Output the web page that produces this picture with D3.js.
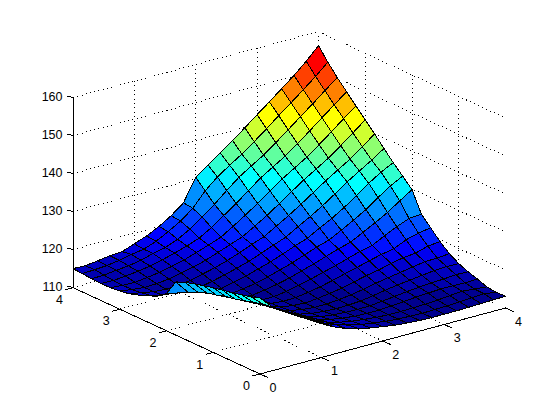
<!DOCTYPE html>
<html><head><meta charset="utf-8">
<script src="https://cdn.jsdelivr.net/npm/d3@7"></script>
<style>html,body{margin:0;padding:0;background:#fff}svg{display:block}text{font-family:"Liberation Sans",Arial,sans-serif;font-size:12.5px;fill:#000}</style>
</head><body><svg id="c" width="560" height="420"></svg>
<script>
const xValues=[0,.2,.4,.6,.8,1,1.2,1.4,1.6,1.8,2,2.2,2.4,2.6,2.8,3,3.2,3.4,3.6,3.8,4];
const yValues=[4,3.8,3.6,3.4,3.2,3,2.8,2.6,2.4,2.2,2,1.8,1.6,1.4,1.2,1,.8,.6,.4,.2,0];
const zValues=[
[115,114.9,115.3,115.8,116,117.2,118.4,120,122,124.5,130.4,132.7,135,137.4,139.9,142.5,145,147.6,150.2,153.1,156.3],
[114.8,115,115.2,115.7,116.4,116.9,118.1,119.8,121.7,124.2,127.9,130.7,132.9,135,137.4,139.9,142.5,145,147.6,150.2,153.1],
[114.6,114.7,115.1,115.4,116,116.9,117.6,118.9,120.7,123,125.5,128.3,130.9,133,135,137.4,139.9,142.5,145,147.6,150.2],
[114.5,114.4,114.7,115.1,115.6,116.4,117.3,118.3,119.5,121.4,123.7,126,128.5,131,133,135,137.4,139.9,142.5,145,147.6],
[114.5,114.3,114.2,114.6,115.1,115.8,116.6,117.7,118.8,120,122,124.1,126.3,128.7,131,133,135,137.4,139.9,142.5,145],
[114.8,114.3,114,114.1,114.5,115.2,115.9,116.8,118,119.2,120.4,122.3,124.3,126.5,128.8,131,133,135,137.4,139.9,142.5],
[115.2,114.6,114,113.8,113.9,114.4,115.2,116,117,118.2,119.5,120.7,122.6,124.5,126.6,128.8,131,133,135,137.4,139.9],
[116,115,114.3,114,113.5,113.7,114.4,115.2,116.1,117.1,118.3,119.6,120.8,122.7,124.5,126.5,128.7,131,133,135,137.2],
[116.9,116.3,115.9,115.3,114.4,113.4,113.7,114.4,115.2,116.2,117.2,118.4,119.7,120.8,122.6,124.3,126.3,128.5,130.9,133,134.6],
[118,117.7,117.3,116.5,115.3,114.1,113.4,113.8,114.4,115.2,116.2,117.2,118.4,119.6,120.6,122.3,124.1,126,128.3,130.5,132.2],
[119.8,119.1,118.5,117.6,116.2,114.6,113.5,113.3,113.8,114.4,115.2,116.2,117.2,118.3,119.4,120.3,122,123.7,125.5,127.7,129.8],
[124,120.4,119.7,118.3,116.6,115.2,113.9,113.2,113.2,113.7,114.4,115.2,116.1,117,118,119,119.7,121.4,122.9,124.2,124.5],
[125,121.6,120.5,119.1,117.5,115.8,114.3,113.4,113.1,113.2,113.7,114.3,115.1,116,116.8,117.7,118.5,119.1,120.6,121.5,122],
[125.8,122.5,121.1,119.4,117.8,116.3,114.6,113.6,113.1,112.9,113.2,113.7,114.2,115,115.8,116.4,117.2,117.9,118.2,119.2,119.5],
[126.4,123.1,121.6,120,118.4,116.9,114.9,113.8,113.2,112.9,112.9,113.2,113.6,114.2,114.9,115.5,116,116.6,117.1,117.2,117.5],
[127,123.9,122.3,120.9,119.3,117.4,115.4,114,113.3,113,112.8,112.9,113.1,113.6,114.2,114.7,115.1,115.5,115.9,116.1,116],
[127.5,124.3,122.8,121.3,119.7,117.8,115.9,114.4,113.6,113.2,113,112.9,113,113.3,113.7,114.1,114.4,114.7,114.8,115.1,115],
[128,125,123.4,121.8,120.1,118.2,116.4,114.9,114,113.5,113.1,113,113,113.2,113.5,113.8,114,114.2,114.2,114.1,114.2],
[128.6,125.7,123.9,122.1,120.3,118.4,116.7,115.3,114.4,113.8,113.4,113.1,112.9,112.9,113,113.1,113.3,113.6,113.9,113.6,113.3],
[129.2,126.4,124.4,122.5,120.6,118.7,117,115.7,114.8,114.1,113.6,113.2,112.9,112.8,112.7,112.8,112.9,113.1,113.3,113.5,113],
[130,126.8,124.6,122.7,120.8,118.9,117.2,115.9,115,114.3,113.8,113.3,113,112.8,112.7,112.7,112.7,112.8,112.9,113,113.1]
];
const xTicks=[0,1,2,3,4], yTicks=[0,1,2,3,4], zTicks=[110,120,130,140,150,160];

// oblique projection: each data axis maps to a screen offset through its own scales
const xToSx=d3.scaleLinear([0,4],[0,245.5]), xToSy=d3.scaleLinear([0,4],[0,-66]);
const yToSx=d3.scaleLinear([0,4],[0,-187]),  yToSy=d3.scaleLinear([0,4],[0,-86.4]);
const zToSy=d3.scaleLinear([110,160],[0,-190]);
const px=(x,y,z)=>[260+xToSx(x)+yToSx(y), 374+xToSy(x)+yToSy(y)+zToSy(z)];
const line=d3.line();

function jet(t){const c=v=>Math.round(255*Math.max(0,Math.min(1,v)));
  return `rgb(${c(1.5-Math.abs(4*t-3))},${c(1.5-Math.abs(4*t-2))},${c(1.5-Math.abs(4*t-1))})`;}
const allZ=zValues.flat();
const jetColors=d3.range(64).map(i=>jet((i+1)/64));
const color=d3.scaleQuantize([d3.min(allZ),d3.max(allZ)],jetColors);

const svg=d3.select('#c');
const grid=svg.append('g').attr('fill','none').attr('stroke','#000').attr('stroke-dasharray','1 3.4').attr('shape-rendering','crispEdges');
const seg=(a,b)=>grid.append('path').attr('d',line([a,b]));
const zb=zTicks[0], zt=zTicks[zTicks.length-1];
// back walls and floor grid
xTicks.slice(1).forEach(x=>{seg(px(x,4,zb),px(x,4,zt));seg(px(x,0,zb),px(x,4,zb));});
yTicks.slice(1).forEach(y=>{seg(px(4,y,zb),px(4,y,zt));seg(px(0,y,zb),px(4,y,zb));});
zTicks.slice(1).forEach(z=>{seg(px(0,4,z),px(4,4,z));seg(px(4,4,z),px(4,0,z));});

// axes
const ax=svg.append('g').attr('fill','none').attr('stroke','#000').attr('shape-rendering','crispEdges');
const aseg=(a,b)=>ax.append('path').attr('d',line([a,b]));
aseg(px(0,0,zb),px(4,0,zb));
aseg(px(0,0,zb),px(0,4,zb));
aseg(px(0,4,zb),px(0,4,zt));
xTicks.forEach(t=>{const p=px(t,0,zb);aseg(p,[p[0]+8,p[1]+3.6]);});
yTicks.forEach(t=>{const p=px(0,t,zb);aseg(p,[p[0]-7.5,p[1]+2]);});
zTicks.forEach(t=>{const p=px(0,4,t);aseg(p,[p[0]-6,p[1]-1.6]);});

// surface, far to near; each face is coloured from its lowest-index vertex
const surf=svg.append('g').attr('stroke','#000').attr('stroke-width',1).attr('shape-rendering','crispEdges').attr('stroke-linejoin','round');
for(let j=0;j<yValues.length-1;j++){
  for(let i=xValues.length-1;i>0;i--){
    const q=[px(xValues[i],yValues[j],zValues[j][i]),
             px(xValues[i-1],yValues[j],zValues[j][i-1]),
             px(xValues[i-1],yValues[j+1],zValues[j+1][i-1]),
             px(xValues[i],yValues[j+1],zValues[j+1][i])];
    surf.append('path').attr('d',line(q)+'Z').attr('fill',color(zValues[j+1][i-1]));
  }
}

// tick labels
const lab=svg.append('g');
xTicks.forEach(t=>{const p=px(t,0,zb);lab.append('text').attr('x',p[0]+13).attr('y',p[1]+13).attr('dy','.36em').attr('text-anchor','middle').text(t);});
yTicks.forEach(t=>{const p=px(0,t,zb);lab.append('text').attr('x',p[0]-13.5).attr('y',p[1]+11.7).attr('dy','.36em').attr('text-anchor','middle').text(t);});
zTicks.forEach(t=>{const p=px(0,4,t);lab.append('text').attr('x',62.5).attr('y',p[1]-1).attr('dy','.36em').attr('text-anchor','end').text(t);});
</script></body></html>
